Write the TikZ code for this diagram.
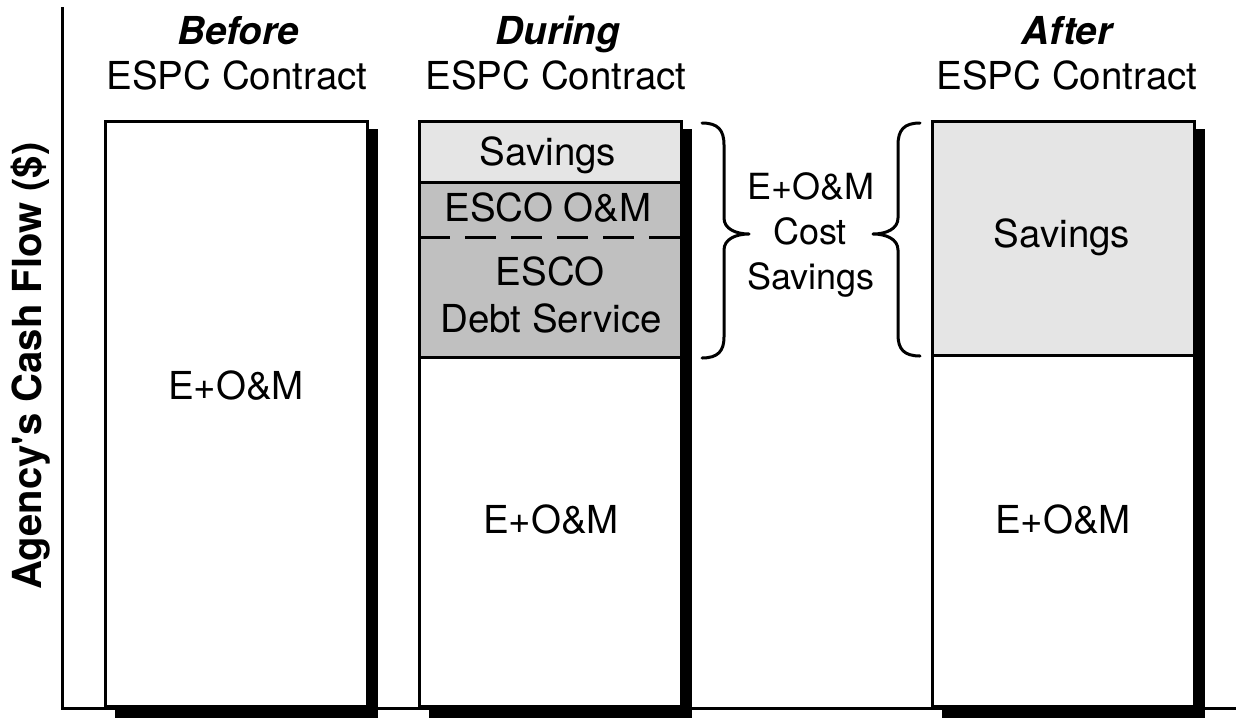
\documentclass[tikz,border=0pt]{standalone}
\usepackage{fontspec}
\setmainfont{TeX Gyre Heros}
\definecolor{savlight}{RGB}{229,229,229}
\definecolor{escogray}{RGB}{192,192,192}
\begin{document}
\begin{tikzpicture}[x=1pt,y=-1pt,
  txt/.style={font=\fontsize{38.5}{46}\selectfont, anchor=base, inner sep=0pt},
  midtxt/.style={font=\fontsize{36}{44}\selectfont, anchor=base, inner sep=0pt},
  ttl/.style={font=\fontsize{38.5}{46}\selectfont\bfseries\itshape, anchor=base, inner sep=0pt},
  ylab/.style={font=\fontsize{40}{48}\selectfont\bfseries, anchor=base, inner sep=0pt, rotate=90},
  barframe/.style={draw=black, line width=3pt},
  divider/.style={draw=black, line width=3pt},
  shadowbox/.style={fill=black},
  axisline/.style={draw=black, line width=3pt},
  bracepath/.style={draw=black, line width=3pt, line cap=round, line join=round}]
\useasboundingbox (0,0) rectangle (1236,718);

% ---- Before bar ----
\fill[shadowbox] (115,129) rectangle (378,718);
\draw[barframe, fill=white] (105,121) rectangle (367,706);

% ---- During bar ----
\fill[shadowbox] (429,129) rectangle (692,718);
\fill[white] (419,357) rectangle (681,706);
\fill[savlight] (419,121) rectangle (681,182);
\fill[escogray] (419,182) rectangle (681,357);
\draw[divider] (419,182) -- (681,182);
\draw[divider] (419,357) -- (681,357);
\draw[draw=black, line width=3pt, dash pattern=on 31pt off 15pt] (419,237) -- (681,237);
\draw[barframe] (419,121) rectangle (681,706);

% ---- After bar ----
\fill[shadowbox] (942,129) rectangle (1205,718);
\fill[white] (932,355) rectangle (1194,706);
\fill[savlight] (932,121) rectangle (1194,355);
\draw[divider] (932,355) -- (1194,355);
\draw[barframe] (932,121) rectangle (1194,706);

% ---- axes ----
\draw[axisline] (62,7) -- (62,708) -- (1236,708);

% ---- braces ----
\draw[bracepath] (702,123) .. controls (718,123) and (724,130) .. (724,145)
  -- (724,218) .. controls (724,229) and (736,234) .. (749,234)
  .. controls (736,234) and (724,239) .. (724,250)
  -- (724,337) .. controls (724,351) and (718,358) .. (702,358);
\draw[bracepath] (920,123) .. controls (904,123) and (898,130) .. (898,145)
  -- (898,218) .. controls (898,229) and (886,234) .. (873,234)
  .. controls (886,234) and (898,239) .. (898,250)
  -- (898,335) .. controls (898,349) and (904,356) .. (920,356);

% ---- titles ----
\node[ttl] (t1) at (238,44) {Before};
\node[txt] (t1b) at (237,89) {ESPC Contract};
\node[ttl] (t2) at (558,44) {During};
\node[txt] (t2b) at (556,89) {ESPC Contract};
\node[ttl] (t3) at (1067,44) {After};
\node[txt] (t3b) at (1067,89) {ESPC Contract};

% ---- y label ----
\node[ylab] (yl) at (41,366) {Agency\textquotesingle s Cash Flow (\$)};

% ---- bar labels ----
\node[txt] (b1) at (236,399) {E+O\&M};
\node[txt] (d1) at (548,165) {Savings};
\node[txt] (d2) at (548,221) {ESCO O\&M};
\node[txt] (d3) at (550,285) {ESCO};
\node[txt] (d4) at (551,332) {Debt Service};
\node[txt] (d5) at (551,533) {E+O\&M};
\node[txt] (a1) at (1062,247) {Savings};
\node[txt] (a2) at (1063,533) {E+O\&M};

% ---- middle label ----
\node[midtxt] (c1) at (811,199) {E+O\&M};
\node[midtxt] (c2) at (810,244) {Cost};
\node[midtxt] (c3) at (811,289) {Savings};
\end{tikzpicture}
\end{document}
